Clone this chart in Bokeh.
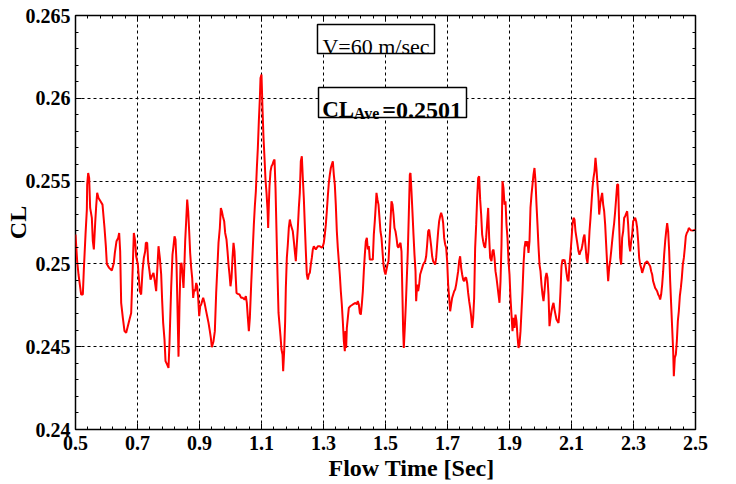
from bokeh.plotting import figure
from bokeh.models import (Range1d, FixedTicker, LinearAxis, CustomJSTickFormatter,
                          BoxAnnotation, Label, Title)
from bokeh.embed import file_html
from bokeh.resources import INLINE

# ---------------- data ----------------
time_s = [
    0.5000, 0.5054, 0.5097, 0.5183, 0.5237, 0.5269, 0.5323, 0.5366, 0.5377, 0.5409,
    0.5441, 0.5473, 0.5527, 0.5559, 0.5592, 0.5635, 0.5667, 0.5699, 0.5742, 0.5807,
    0.5871, 0.5936, 0.5979, 0.6011, 0.6086, 0.6172, 0.6237, 0.6269, 0.6323, 0.6377,
    0.6409, 0.6441, 0.6473, 0.6527, 0.6581, 0.6635, 0.6688, 0.6742, 0.6796, 0.6828,
    0.6882, 0.6925, 0.6957, 0.7011, 0.7043, 0.7075, 0.7118, 0.7161, 0.7204, 0.7248,
    0.7269, 0.7312, 0.7344, 0.7387, 0.7420, 0.7463, 0.7516, 0.7559, 0.7602, 0.7635,
    0.7678, 0.7721, 0.7764, 0.7796, 0.7828, 0.7871, 0.7904, 0.7957, 0.8000, 0.8032,
    0.8086, 0.8129, 0.8161, 0.8194, 0.8226, 0.8258, 0.8290, 0.8323,
    0.8355, 0.8388, 0.8420, 0.8452, 0.8484, 0.8517, 0.8538, 0.8570, 0.8603, 0.8635,
    0.8667, 0.8699, 0.8732, 0.8764, 0.8796, 0.8828, 0.8861, 0.8893, 0.8925, 0.8957,
    0.8990, 0.9022, 0.9054, 0.9086, 0.9119, 0.9162, 0.9205, 0.9248, 0.9291, 0.9334,
    0.9366, 0.9398, 0.9452, 0.9495, 0.9538, 0.9581, 0.9613, 0.9656, 0.9689, 0.9721,
    0.9753, 0.9796, 0.9828, 0.9871, 0.9904, 0.9936, 0.9968, 1.0000, 1.0033, 1.0065,
    1.0097, 1.0129, 1.0162, 1.0194, 1.0237, 1.0291, 1.0345, 1.0398, 1.0452, 1.0495,
    1.0527, 1.0560, 1.0592, 1.0624, 1.0667, 1.0710, 1.0753, 1.0785, 1.0818, 1.0850,
    1.0882, 1.0914, 1.0947, 1.0968, 1.1000, 1.1033, 1.1065, 1.1097, 1.1129, 1.1162,
    1.1194, 1.1215, 1.1237, 1.1258, 1.1291, 1.1323, 1.1355, 1.1387, 1.1420, 1.1452,
    1.1484, 1.1516, 1.1549, 1.1581, 1.1613, 1.1645, 1.1678,
    1.1699, 1.1731, 1.1763, 1.1785, 1.1817, 1.1849, 1.1881, 1.1914, 1.1946, 1.1978,
    1.2010, 1.2043, 1.2075, 1.2107, 1.2139, 1.2172, 1.2204, 1.2236, 1.2268, 1.2301,
    1.2333, 1.2365, 1.2397, 1.2430, 1.2462, 1.2494, 1.2526, 1.2559, 1.2591, 1.2623,
    1.2655, 1.2688, 1.2752, 1.2817, 1.2881, 1.2946, 1.2978, 1.3010, 1.3043, 1.3075,
    1.3107, 1.3139, 1.3172, 1.3204, 1.3236, 1.3268, 1.3301, 1.3333, 1.3365, 1.3397,
    1.3430, 1.3462, 1.3494, 1.3526, 1.3559, 1.3591, 1.3623, 1.3656, 1.3688, 1.3709,
    1.3731, 1.3753, 1.3785, 1.3817, 1.3860, 1.3946, 1.4032, 1.4075, 1.4107, 1.4140,
    1.4172, 1.4204, 1.4236, 1.4269, 1.4301, 1.4333, 1.4365, 1.4398, 1.4430, 1.4462,
    1.4494, 1.4537, 1.4591, 1.4623, 1.4655, 1.4688, 1.4709, 1.4742, 1.4774, 1.4806,
    1.4838, 1.4871, 1.4903, 1.4935, 1.4968, 1.5000,
    1.5064, 1.5097, 1.5129, 1.5161, 1.5193, 1.5226, 1.5258, 1.5290, 1.5322, 1.5355,
    1.5387, 1.5419, 1.5451, 1.5484, 1.5516, 1.5548, 1.5570, 1.5591, 1.5623, 1.5656,
    1.5688, 1.5720, 1.5752, 1.5785, 1.5806, 1.5838, 1.5871, 1.5903, 1.5935, 1.5968,
    1.5989, 1.6021, 1.6054, 1.6086, 1.6118, 1.6150, 1.6183, 1.6215, 1.6279, 1.6312,
    1.6344, 1.6376, 1.6408, 1.6441, 1.6473, 1.6505, 1.6537, 1.6570, 1.6602, 1.6634,
    1.6666, 1.6699, 1.6731, 1.6763, 1.6795, 1.6828, 1.6860, 1.6892, 1.6925, 1.6957,
    1.6989, 1.7021, 1.7054, 1.7086, 1.7118, 1.7150, 1.7183, 1.7215, 1.7247, 1.7279,
    1.7312, 1.7344, 1.7376, 1.7408, 1.7441, 1.7473, 1.7505, 1.7537, 1.7570, 1.7602,
    1.7634, 1.7666, 1.7699, 1.7731, 1.7763, 1.7795, 1.7828, 1.7860, 1.7892, 1.7925,
    1.7957, 1.7989, 1.8021, 1.8054, 1.8086, 1.8118, 1.8150, 1.8183, 1.8215, 1.8247,
    1.8279, 1.8312, 1.8344, 1.8376,
    1.8419, 1.8452, 1.8484, 1.8516, 1.8548, 1.8581, 1.8613, 1.8645, 1.8677, 1.8710,
    1.8742, 1.8774, 1.8806, 1.8839, 1.8871, 1.8903, 1.8935, 1.8968, 1.9000, 1.9032,
    1.9064, 1.9097, 1.9129, 1.9161, 1.9193, 1.9226, 1.9258, 1.9290, 1.9322, 1.9355,
    1.9387, 1.9419, 1.9452, 1.9484, 1.9516, 1.9548, 1.9581, 1.9613, 1.9645, 1.9677,
    1.9710, 1.9742, 1.9774, 1.9806, 1.9839, 1.9871, 1.9903, 1.9935, 1.9968, 2.0000,
    2.0032, 2.0065, 2.0097, 2.0129, 2.0161, 2.0194, 2.0226, 2.0258, 2.0290, 2.0323,
    2.0355, 2.0387, 2.0419, 2.0452, 2.0484, 2.0516, 2.0548, 2.0581, 2.0613, 2.0645,
    2.0677, 2.0710, 2.0742, 2.0774, 2.0806, 2.0839, 2.0871, 2.0903, 2.0935, 2.0968,
    2.1000, 2.1032, 2.1065, 2.1097, 2.1129, 2.1161, 2.1194, 2.1226, 2.1258, 2.1290,
    2.1323, 2.1355, 2.1387, 2.1419, 2.1452, 2.1484, 2.1516, 2.1548, 2.1581, 2.1613,
    2.1645, 2.1677, 2.1710, 2.1742,
    2.1774, 2.1807, 2.1839, 2.1871, 2.1893, 2.1925, 2.1957, 2.1989, 2.2022, 2.2054,
    2.2086, 2.2118, 2.2151, 2.2183, 2.2215, 2.2247, 2.2280, 2.2312, 2.2344, 2.2376,
    2.2409, 2.2441, 2.2473, 2.2505, 2.2538, 2.2570, 2.2602, 2.2634, 2.2667, 2.2699,
    2.2731, 2.2796, 2.2828, 2.2860, 2.2893, 2.2925, 2.2957, 2.2989, 2.3022, 2.3054,
    2.3086, 2.3118, 2.3151, 2.3183, 2.3215, 2.3247, 2.3280, 2.3312, 2.3344, 2.3376,
    2.3441, 2.3505, 2.3538, 2.3570, 2.3602, 2.3634, 2.3667, 2.3699, 2.3731, 2.3763,
    2.3796, 2.3828, 2.3860, 2.3892, 2.3925, 2.3957, 2.3989, 2.4022, 2.4054, 2.4086,
    2.4118, 2.4151, 2.4183, 2.4215, 2.4247, 2.4280, 2.4301, 2.4333, 2.4366, 2.4398,
    2.4430, 2.4462, 2.4495, 2.4527, 2.4559, 2.4591, 2.4624, 2.4656, 2.4688, 2.4720,
    2.4753, 2.4785, 2.4849, 2.4914, 2.5000,
]

cl = [
    0.25177, 0.25016, 0.24936, 0.24815, 0.24815, 0.24966, 0.25177, 0.25328, 0.25479, 0.25549,
    0.25519, 0.25338, 0.25278, 0.25137, 0.25087, 0.25247, 0.25348, 0.25429, 0.25398, 0.25378,
    0.25358, 0.25217, 0.25107, 0.25000, 0.24976, 0.24960, 0.25006, 0.25066, 0.25137, 0.25157,
    0.25187, 0.25076, 0.24765, 0.24674, 0.24594, 0.24584, 0.24624, 0.24664, 0.24704, 0.24875,
    0.25187, 0.25137, 0.25046, 0.24996, 0.24916, 0.24835, 0.24815, 0.24956, 0.25036, 0.25076,
    0.25127, 0.25127, 0.25016, 0.24956, 0.24905, 0.24926, 0.24946, 0.24895, 0.24835, 0.24956,
    0.25107, 0.25036, 0.24936, 0.24775, 0.24644, 0.24543, 0.24413, 0.24392, 0.24372, 0.24523,
    0.24855, 0.25056, 0.25107, 0.25167, 0.25147, 0.25006, 0.24734, 0.24440,
    0.24755, 0.24996, 0.25006, 0.24936, 0.24855, 0.25016, 0.25137, 0.25258, 0.25388, 0.25318,
    0.25197, 0.25066, 0.24976, 0.24916, 0.24795, 0.24845, 0.24835, 0.24885, 0.24865, 0.24795,
    0.24684, 0.24744, 0.24755, 0.24775, 0.24795, 0.24765, 0.24724, 0.24684, 0.24644, 0.24594,
    0.24553, 0.24497, 0.24533, 0.24594, 0.24825, 0.24996, 0.25127, 0.25217, 0.25338, 0.25318,
    0.25288, 0.25258, 0.25187, 0.25147, 0.25076, 0.24996, 0.24936, 0.24865, 0.24916, 0.25036,
    0.25127, 0.25076, 0.24946, 0.24825, 0.24819, 0.24815, 0.24795, 0.24795, 0.24785, 0.24805,
    0.24765, 0.24674, 0.24594, 0.24674, 0.24875, 0.25056, 0.25237, 0.25348, 0.25439, 0.25579,
    0.25700, 0.25861, 0.26000, 0.26123, 0.26143, 0.25932, 0.25761, 0.25640, 0.25509, 0.25429,
    0.25328, 0.25217, 0.25358, 0.25469, 0.25559, 0.25590, 0.25600, 0.25620, 0.25630, 0.25459,
    0.25197, 0.24936, 0.24704, 0.24634, 0.24563, 0.24483, 0.24453,
    0.24352, 0.24473, 0.24654, 0.24855, 0.25036, 0.25117, 0.25217, 0.25268, 0.25237, 0.25217,
    0.25197, 0.25137, 0.25076, 0.25016, 0.25117, 0.25217, 0.25338, 0.25429, 0.25620, 0.25650,
    0.25519, 0.25398, 0.25237, 0.25076, 0.24936, 0.24905, 0.24936, 0.24946, 0.24996, 0.25036,
    0.25087, 0.25107, 0.25087, 0.25107, 0.25107, 0.25097, 0.25107, 0.25127, 0.25177, 0.25237,
    0.25318, 0.25408, 0.25489, 0.25539, 0.25579, 0.25600, 0.25620, 0.25539, 0.25479, 0.25358,
    0.25197, 0.25097, 0.25016, 0.24936, 0.24835, 0.24755, 0.24654, 0.24533, 0.24473, 0.24594,
    0.24493, 0.24614, 0.24674, 0.24734, 0.24744, 0.24755, 0.24765, 0.24755, 0.24775, 0.24755,
    0.24704, 0.24694, 0.24755, 0.24835, 0.24956, 0.25056, 0.25137, 0.25157, 0.25087, 0.25107,
    0.25026, 0.25026, 0.25026, 0.25177, 0.25258, 0.25358, 0.25429, 0.25388, 0.25358, 0.25278,
    0.25197, 0.25157, 0.25076, 0.24996, 0.24956, 0.24936,
    0.24996, 0.25016, 0.25137, 0.25258, 0.25378, 0.25358, 0.25298, 0.25217, 0.25197, 0.25157,
    0.25107, 0.25097, 0.25117, 0.25127, 0.25076, 0.24795, 0.24594, 0.24493, 0.24614, 0.24755,
    0.24916, 0.25076, 0.25298, 0.25539, 0.25549, 0.25439, 0.25308, 0.25177, 0.25056, 0.24956,
    0.24775, 0.24875, 0.24835, 0.24875, 0.24936, 0.24956, 0.24976, 0.24996, 0.25016, 0.25046,
    0.25117, 0.25197, 0.25207, 0.25157, 0.25107, 0.25046, 0.25016, 0.25006, 0.24996, 0.25036,
    0.25117, 0.25197, 0.25258, 0.25288, 0.25308, 0.25288, 0.25247, 0.25157, 0.25117, 0.25097,
    0.25016, 0.24875, 0.24795, 0.24714, 0.24755, 0.24795, 0.24815, 0.24835, 0.24845, 0.24875,
    0.24916, 0.24956, 0.25016, 0.25046, 0.24976, 0.24936, 0.24905, 0.24895, 0.24916, 0.24916,
    0.24885, 0.24825, 0.24775, 0.24734, 0.24684, 0.24614, 0.24674, 0.24795, 0.25097, 0.25237,
    0.25398, 0.25519, 0.25529, 0.25388, 0.25298, 0.25177, 0.25137, 0.25107, 0.25097, 0.25157,
    0.25247, 0.25338, 0.25157, 0.25036,
    0.25016, 0.25076, 0.25087, 0.25036, 0.24956, 0.24916, 0.24865, 0.24815, 0.24765, 0.24895,
    0.25117, 0.25499, 0.25459, 0.25358, 0.25378, 0.25237, 0.25157, 0.25016, 0.24936, 0.24795,
    0.24694, 0.24594, 0.24674, 0.24614, 0.24694, 0.24654, 0.24563, 0.24493, 0.24513, 0.24594,
    0.24714, 0.24835, 0.24996, 0.25097, 0.25137, 0.25107, 0.25137, 0.25066, 0.25137, 0.25338,
    0.25418, 0.25479, 0.25539, 0.25579, 0.25499, 0.25358, 0.25237, 0.25107, 0.24996, 0.24956,
    0.24875, 0.24815, 0.24775, 0.24835, 0.24916, 0.24946, 0.24916, 0.24815, 0.24624, 0.24674,
    0.24714, 0.24744, 0.24765, 0.24724, 0.24694, 0.24664, 0.24654, 0.24644, 0.24714, 0.24835,
    0.24986, 0.25026, 0.25016, 0.25026, 0.24996, 0.24946, 0.24905, 0.24895, 0.24996, 0.25066,
    0.25147, 0.25237, 0.25278, 0.25268, 0.25197, 0.25157, 0.25117, 0.25076, 0.25056, 0.25076,
    0.25087, 0.25117, 0.25157, 0.25177, 0.25107, 0.25036, 0.25006, 0.25076, 0.25197, 0.25278,
    0.25368, 0.25459, 0.25519, 0.25559,
    0.25640, 0.25569, 0.25479, 0.25398, 0.25298, 0.25358, 0.25398, 0.25429, 0.25358, 0.25318,
    0.25237, 0.25117, 0.24996, 0.24895, 0.24976, 0.25016, 0.25076, 0.25137, 0.25197, 0.25247,
    0.25318, 0.25398, 0.25479, 0.25479, 0.25237, 0.25036, 0.24996, 0.25157, 0.25197, 0.25278,
    0.25288, 0.25318, 0.25237, 0.25117, 0.25076, 0.25137, 0.25177, 0.25258, 0.25268, 0.25278,
    0.25258, 0.25217, 0.25137, 0.25036, 0.24996, 0.24976, 0.24946, 0.24966, 0.24986, 0.25006,
    0.25016, 0.24996, 0.24986, 0.24956, 0.24936, 0.24895, 0.24875, 0.24855, 0.24845, 0.24835,
    0.24815, 0.24805, 0.24785, 0.24815, 0.24875, 0.24956, 0.25056, 0.25137, 0.25197, 0.25247,
    0.25197, 0.25076, 0.24895, 0.24755, 0.24614, 0.24473, 0.24322, 0.24433, 0.24453, 0.24533,
    0.24654, 0.24714, 0.24805, 0.24855, 0.24916, 0.24996, 0.25036, 0.25097, 0.25167, 0.25187,
    0.25197, 0.25217, 0.25203, 0.25201, 0.25207,
]

x_ticks = [0.5, 0.7, 0.9, 1.1, 1.3, 1.5, 1.7, 1.9, 2.1, 2.3, 2.5]
y_ticks = [0.24, 0.245, 0.25, 0.255, 0.26, 0.265]
x_label = "Flow Time  [Sec]"
y_label = "CL"
speed_text = "V=60 m/sec"
ave_main = "CL"
ave_sub = "Ave"
ave_value = "=0.2501"

# ---------------- styling / layout ----------------
FONT = "Liberation Serif"
x_minor = [round(0.5 + 0.04 * i, 2) for i in range(51)]
y_minor = [round(0.24 + 0.001 * i, 3) for i in range(26)]

p = figure(width=736, height=484, output_backend="svg", toolbar_location=None,
           x_range=Range1d(0.5, 2.5), y_range=Range1d(0.24, 0.265),
           min_border_left=75, min_border_right=41, min_border_top=15,
           min_border_bottom=55)
p.background_fill_color = "white"
p.border_fill_color = "white"
p.outline_line_color = "black"
p.outline_line_width = 1.5


def style_axis(ax, ticks, minor, show_labels, standoff):
    ax.ticker = FixedTicker(ticks=ticks, minor_ticks=minor)
    ax.axis_line_color = None
    ax.major_tick_in = 6
    ax.major_tick_out = 0
    ax.minor_tick_in = 3
    ax.minor_tick_out = 0
    ax.major_tick_line_color = "black"
    ax.minor_tick_line_color = "black"
    ax.major_tick_line_width = 1
    ax.minor_tick_line_width = 1
    ax.major_label_standoff = standoff
    if show_labels:
        ax.major_label_text_font = FONT
        ax.major_label_text_font_style = "bold"
        ax.major_label_text_font_size = "20px"
        ax.major_label_text_color = "black"
    else:
        ax.formatter = CustomJSTickFormatter(code="return '';")
        ax.major_label_text_font_size = "0px"


style_axis(p.xaxis[0], x_ticks, x_minor, True, 6)
style_axis(p.yaxis[0], y_ticks, y_minor, True, 5)
p.yaxis[0].formatter = CustomJSTickFormatter(
    code="return Number(tick.toFixed(3)).toString();")

# y-axis title
p.yaxis[0].axis_label = y_label
p.yaxis[0].axis_label_text_font = FONT
p.yaxis[0].axis_label_text_font_style = "bold"
p.yaxis[0].axis_label_text_font_size = "24px"
p.yaxis[0].axis_label_text_color = "black"
p.yaxis[0].axis_label_standoff = -8

top_axis = LinearAxis()
style_axis(top_axis, x_ticks, x_minor, False, 0)
p.add_layout(top_axis, "above")
right_axis = LinearAxis()
style_axis(right_axis, y_ticks, y_minor, False, 0)
p.add_layout(right_axis, "right")

# x-axis title (offset to sit where the reference has it)
p.add_layout(Title(text=x_label, align="left", offset=253, standoff=0,
                   text_font=FONT, text_font_style="bold", text_font_size="24px",
                   text_color="black"), "below")

p.xgrid.ticker = FixedTicker(ticks=x_ticks)
p.ygrid.ticker = FixedTicker(ticks=y_ticks)
for g in (p.xgrid, p.ygrid):
    g.grid_line_color = "black"
    g.grid_line_dash = "3 3"
    g.grid_line_width = 1

p.line(time_s, cl, line_color="#ff0000", line_width=2)

# annotation boxes
p.add_layout(BoxAnnotation(left=1.2806, right=1.6581, bottom=0.26271, top=0.26446,
                           fill_color="white", fill_alpha=1.0,
                           line_color="black", line_alpha=1.0, line_width=1.5))
p.add_layout(BoxAnnotation(left=1.2839, right=1.7613, bottom=0.25884, top=0.26065,
                           fill_color="white", fill_alpha=1.0,
                           line_color="black", line_alpha=1.0, line_width=1.5))

p.add_layout(Label(x=1.4694, y=0.26315, text=speed_text, text_font=FONT,
                   text_font_size="22px", text_align="center",
                   text_baseline="alphabetic", text_color="black"))
p.add_layout(Label(x=1.2958, y=0.25932, text=ave_main, text_font=FONT,
                   text_font_style="bold", text_font_size="23px",
                   text_align="left", text_baseline="alphabetic", text_color="black"))
p.add_layout(Label(x=1.3977, y=0.25910, text=ave_sub, text_font=FONT,
                   text_font_style="bold", text_font_size="16px",
                   text_align="left", text_baseline="alphabetic", text_color="black"))
p.add_layout(Label(x=1.4894, y=0.25932, text=ave_value, text_font=FONT,
                   text_font_style="bold", text_font_size="24px",
                   text_align="left", text_baseline="alphabetic", text_color="black"))

open("out.html", "w").write(file_html(p, INLINE))
